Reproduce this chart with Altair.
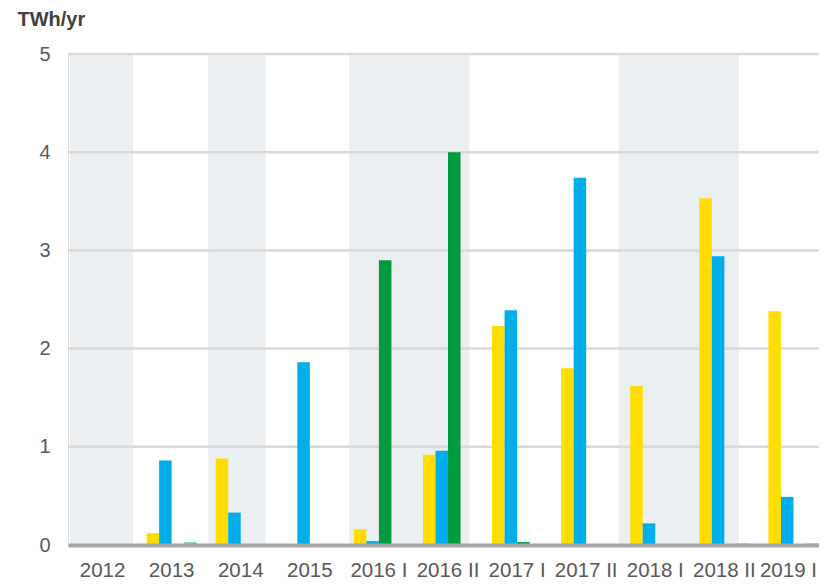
import altair as alt
import pandas as pd

categories = ["2012", "2013", "2014", "2015", "2016 I", "2016 II",
              "2017 I", "2017 II", "2018 I", "2018 II", "2019 I"]
series_names = ["A", "B", "C", "D"]
series_colors = ["#FFDD00", "#00AEEB", "#009B3E", "#6FD0C2"]

vals_a = [0.0, 0.12, 0.88, 0.0, 0.16, 0.92, 2.23, 1.80, 1.62, 3.53, 2.38]
vals_b = [0.0, 0.86, 0.33, 1.86, 0.04, 0.96, 2.39, 3.74, 0.22, 2.94, 0.49]
vals_c = [0.0, 0.0, 0.0, 0.0, 2.90, 4.00, 0.03, 0.0, 0.0, 0.0, 0.0]
vals_d = [0.0, 0.03, 0.0, 0.0, 0.0, 0.0, 0.0, 0.0, 0.0, 0.015, 0.015]

y_ticks = [0, 1, 2, 3, 4, 5]
grid_values = [1, 2, 3, 4, 5]

# shaded periods, in category-index units
shade_start = [-0.47, 1.53, 3.57, 7.47]
shade_end = [0.44, 2.36, 5.31, 9.21]

rows = []
for name, vals in zip(series_names, [vals_a, vals_b, vals_c, vals_d]):
    for c, v in zip(categories, vals):
        rows.append({"cat": c, "series": name, "value": v})
df = pd.DataFrame(rows)
shade_df = pd.DataFrame({"start": shade_start, "end": shade_end})
grid_df = pd.DataFrame({"g": grid_values})

FONT = "Liberation Sans, Arial, sans-serif"
yscale = alt.Scale(domain=[0, 5], nice=False)
XRANGE = [0, 760]

shade = alt.Chart(shade_df).mark_rect(color="#EBEFF2").encode(
    x=alt.X("start:Q", scale=alt.Scale(domain=[-0.5, 10.5], range=XRANGE, nice=False, zero=False), axis=None),
    x2="end:Q",
    y=alt.datum(5, scale=yscale),
    y2=alt.datum(0),
)

grid = alt.Chart(grid_df).mark_rule(color="#D9D9D9", strokeWidth=2.5).encode(
    y=alt.Y("g:Q", scale=yscale),
)

bars = alt.Chart(df).mark_bar().encode(
    x=alt.X("cat:N", sort=categories,
            scale=alt.Scale(paddingInner=0.275, paddingOuter=0.1375, range=XRANGE),
            axis=alt.Axis(title=None, labelAngle=0, labelFontSize=20.5, labelFont=FONT,
                          labelColor="#595959", ticks=False, tickSize=0, labelPadding=15,
                          domainColor="#A6A6A6", domainWidth=4, zindex=1,
                          labelOverlap=False, labelBound=False,
                          labelOffset=alt.expr("datum.value === '2019 I' ? -5 : 0"))),
    xOffset=alt.XOffset("series:N", sort=series_names, scale=alt.Scale(paddingInner=0, paddingOuter=0)),
    y=alt.Y("value:Q", scale=yscale,
            axis=alt.Axis(values=y_ticks, grid=False, ticks=False, tickSize=0, domain=False,
                          labelFontSize=20, labelFont=FONT, labelColor="#595959",
                          labelPadding=18, format="d",
                          title="TWh/yr", titleAngle=0, titleX=-51, titleY=-29,
                          titleAlign="left", titleBaseline="alphabetic",
                          titleFont=FONT, titleFontSize=20, titleFontWeight="bold",
                          titleColor="#404040")),
    color=alt.Color("series:N", scale=alt.Scale(domain=series_names, range=series_colors), legend=None),
)

chart = alt.layer(shade, grid, bars).resolve_scale(x="independent").properties(
    width=751, height=491,
    padding={"left": 60, "top": 46, "right": 0, "bottom": 36},
    autosize=alt.AutoSizeParams(type="none"),
).configure_view(stroke=None).configure(background="white")

chart.save("out.html", embed_options={"renderer": "svg", "actions": False})
